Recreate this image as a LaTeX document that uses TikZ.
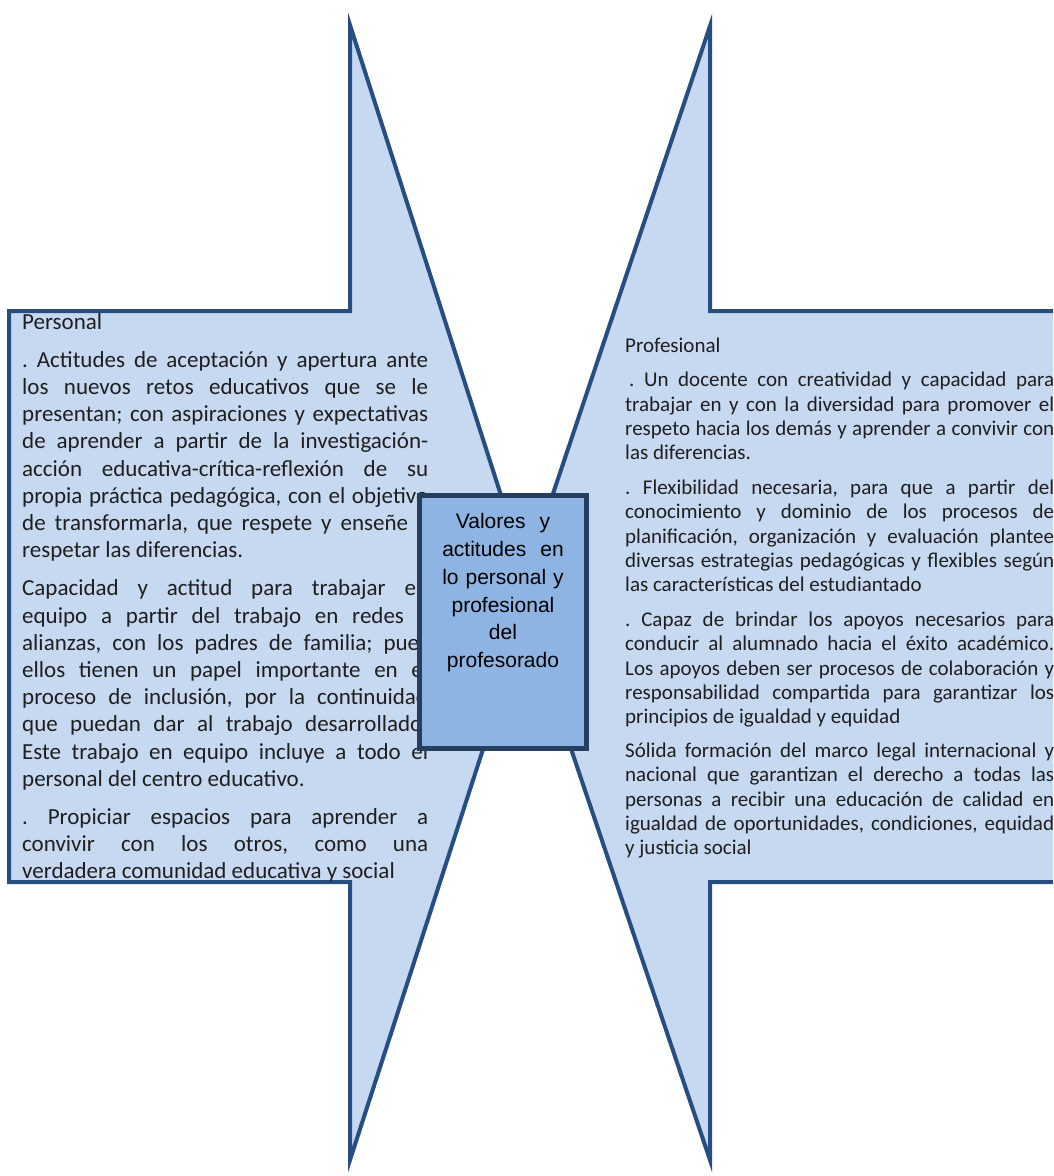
\documentclass[tikz,border=0pt]{standalone}
\usepackage{fontspec}
\setmainfont{Carlito}
\newfontfamily\arialfont{Liberation Sans}
\usepackage{xcolor}
\usepackage{tikz}
\definecolor{valfill}{HTML}{C6D9F1}
\definecolor{valline}{HTML}{264E80}
\definecolor{valmid}{HTML}{8EB4E3}
\definecolor{valdark}{HTML}{25405F}
\definecolor{valtext}{HTML}{1F1F1F}
\tolerance=10000
\hyphenpenalty=10000
\frenchspacing

\begin{document}
\begin{tikzpicture}[x=1pt, y=-1pt,
  arm/.style={draw=valline, line width=4pt, fill=valfill},
  core/.style={draw=valdark, line width=5pt, fill=valmid,
    minimum width=167pt, minimum height=253pt, inner sep=0pt},
  coretext/.style={anchor=base, inner sep=0pt, text width=165pt, align=center,
    text=black, font=\arialfont\fontsize{21}{27.9}\selectfont},
  note/.style={anchor=base west, inner sep=0pt, align=justify, text=valtext}]
  \useasboundingbox (0,0) rectangle (1053,1176);
  \clip (0,0) rectangle (1053,1176);

  % the two arms
  \draw[arm] (9,311) -- (350,311) -- (350,25) -- (533,595) -- (350,1160)
    -- (350,882) -- (9,882) -- cycle;
  \draw[arm] (1070,311) -- (710,311) -- (710,26) -- (519,595) -- (710,1160)
    -- (710,882) -- (1070,882) -- cycle;

  \node[note, text width=406pt, font=\fontsize{23}{27.2}\selectfont] (personal) at (22,329.5) {%
    Personal\par\vspace{10.5pt}
    . Actitudes de aceptación y apertura ante\linebreak
    los nuevos retos educativos que se le\linebreak
    presentan; con aspiraciones y expectativas\linebreak
    de aprender a partir de la investigación-\linebreak
    acción educativa-crítica-reflexión de su\linebreak
    propia práctica pedagógica, con el objetivo\linebreak
    de transformarla, que respete y enseñe a\linebreak
    respetar las diferencias.\par\vspace{11pt}
    Capacidad y actitud para trabajar en\linebreak
    equipo a partir del trabajo en redes y\linebreak
    alianzas, con los padres de familia; pues\linebreak
    ellos tienen un papel importante en el\linebreak
    proceso de inclusión, por la continuidad\linebreak
    que puedan dar al trabajo desarrollado.\linebreak
    Este trabajo en equipo incluye a todo el\linebreak
    personal del centro educativo.\par\vspace{11pt}
    . Propiciar espacios para aprender a\linebreak
    convivir con los otros, como una\linebreak
    verdadera comunidad educativa y social};

  \node[note, text width=429pt, font=\fontsize{21}{24.2}\selectfont] (profesional) at (625,352.7) {%
    Profesional\par\vspace{10pt}
    \hspace*{4pt}. Un docente con creatividad y capacidad para\linebreak
    trabajar en y con la diversidad para promover el\linebreak
    respeto hacia los demás y aprender a convivir con\linebreak
    las diferencias.\par\vspace{11pt}
    . Flexibilidad necesaria, para que a partir del\linebreak
    conocimiento y dominio de los procesos de\linebreak
    planificación, organización y evaluación plantee\linebreak
    diversas estrategias pedagógicas y flexibles según\linebreak
    las características del estudiantado\par\vspace{11pt}
    . Capaz de brindar los apoyos necesarios para\linebreak
    conducir al alumnado hacia el éxito académico.\linebreak
    Los apoyos deben ser procesos de colaboración y\linebreak
    responsabilidad compartida para garantizar los\linebreak
    principios de igualdad y equidad\par\vspace{10pt}
    Sólida formación del marco legal internacional y\linebreak
    nacional que garantizan el derecho a todas las\linebreak
    personas a recibir una educación de calidad en\linebreak
    igualdad de oportunidades, condiciones, equidad\linebreak
    y justicia social};

  % centre box on top
  \node[core] (valores) at (503,622) {};
  \node[coretext] (valorestxt) at (503,528.3)
    {Valores\ \ y\\ actitudes\ \ en\\ lo personal y\\ profesional\\ del\\ profesorado};
\end{tikzpicture}
\end{document}
